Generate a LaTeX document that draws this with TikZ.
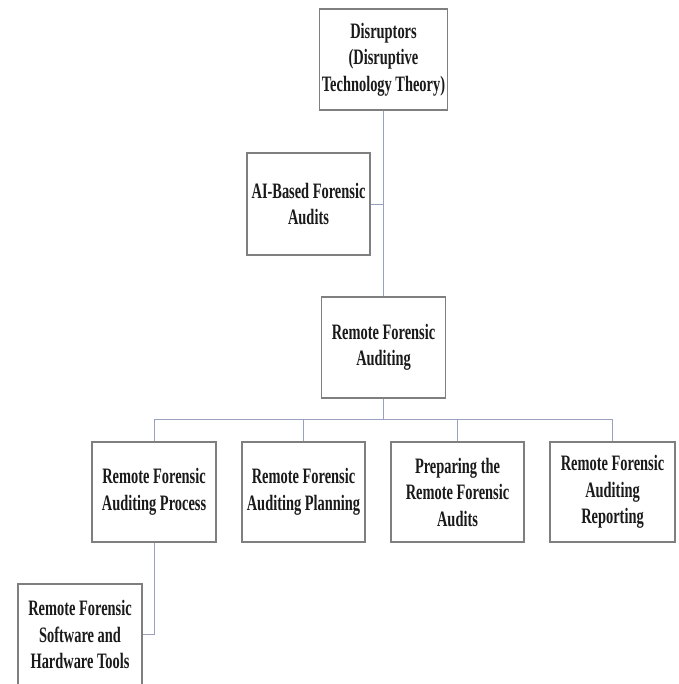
\documentclass[tikz,border=0pt]{standalone}
\usepackage{fontspec}
\setmainfont{Liberation Serif}[FakeStretch=0.655]
\definecolor{boxline}{HTML}{7F7F7F}
\definecolor{linkline}{HTML}{98A2BE}
\definecolor{ink}{HTML}{1A1A1A}
\begin{document}
\begin{tikzpicture}[x=1pt,y=-1pt,
  box/.style={draw=boxline,line width=1.1pt,fill=white,align=center,
    inner sep=2pt,text=ink,
    font=\bfseries\fontsize{22}{26.5}\selectfont},
  link/.style={draw=linkline,line width=0.9pt}]
\useasboundingbox (0,0) rectangle (678,684);
\begin{scope}
\clip (0,0) rectangle (678,684);
% top of the tree
\node[box,minimum width=123pt,minimum height=101pt] (dis) at (383.5,59.5)
  {Disruptors\\(Disruptive\\Technology Theory)};
\node[box,minimum width=123pt,minimum height=102pt] (ai) at (308.5,204)
  {AI-Based Forensic\\Audits};
\node[box,minimum width=124pt,minimum height=101pt] (rfa) at (383.5,347.5)
  {Remote Forensic\\Auditing};
% second level
\node[box,minimum width=124pt,minimum height=100pt] (b1) at (154,492)
  {Remote Forensic\\Auditing Process};
\node[box,minimum width=123pt,minimum height=100pt] (b2) at (303.5,492)
  {Remote Forensic\\Auditing Planning};
\node[box,minimum width=133pt,minimum height=100pt] (b3) at (457.5,492)
  {Preparing the\\Remote Forensic\\Audits};
\node[box,minimum width=125pt,minimum height=100pt] (b4) at (612.5,492)
  {Remote Forensic\\Auditing\\Reporting};
% third level
\node[box,minimum width=124pt,minimum height=101pt] (b5) at (80,634.5)
  {Remote Forensic\\Software and\\Hardware Tools};
\coordinate (bus) at (383.5,419);
% connectors
\draw[link] (dis.south) -- (rfa.north);
\draw[link] (ai.east) -- (ai.east -| dis.south);
\draw[link] (rfa.south) -- (bus);
\draw[link] (b1.north) -- (b1.north |- bus) -- (b4.north |- bus) -- (b4.north);
\draw[link] (b2.north) -- (b2.north |- bus);
\draw[link] (b3.north) -- (b3.north |- bus);
\draw[link] (b1.south) |- (b5.east);
\end{scope}
\end{tikzpicture}
\end{document}
